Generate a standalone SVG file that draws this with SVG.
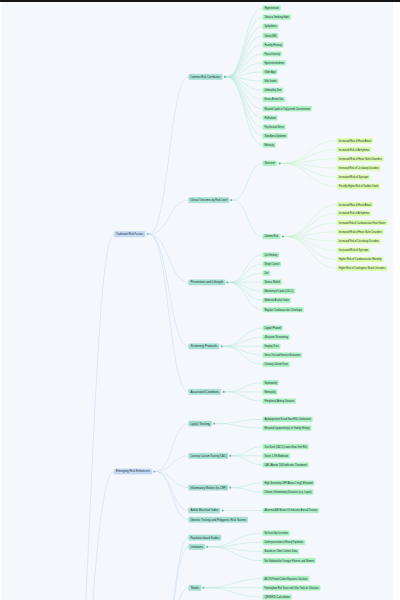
<svg xmlns="http://www.w3.org/2000/svg" width="400" height="600" viewBox="0 0 400 600">
<style>
text{font-family:"Liberation Sans",Arial,sans-serif;font-size:2.6px;fill:#1e293b}
.r{fill:#c5dbf6;stroke:#a9c6ec;stroke-width:.4}
.b{fill:#a9e3d3;stroke:#90d5c1;stroke-width:.4}
.g{fill:#a9efc2;stroke:#cdf6da;stroke-width:.4}
.l{fill:#d7fba6;stroke:#e8fcca;stroke-width:.4}
.tr{fill:#8fb0dc}.tb{fill:#67bea1}.tg{fill:#5ccd89}
#links path{fill:none;stroke-width:.5}
.k0{stroke:#c9d4ef}.k1{stroke:#c7d9ee}.k2{stroke:#b6e7d6}.k3{stroke:#c6f1cb}
</style>
<rect width="400" height="600" fill="#ffffff"/>
<rect x="2" y="2" width="391" height="598" fill="#f4f8fc"/>
<rect width="400" height="2" fill="#151515"/>
<g id="links">
<path class="k0" d="M60,820 C90,820 90,234.2 114.3,234.2"/>
<path class="k0" d="M60,820 C90,820 90,471.5 114.3,471.5"/>
<path class="k1" d="M149,234.2 C169,234.2 169,76.9 188.7,76.9"/>
<path class="k1" d="M149,234.2 C169,234.2 169,200.2 188.7,200.2"/>
<path class="k1" d="M149,234.2 C169,234.2 169,282.4 188.7,282.4"/>
<path class="k1" d="M149,234.2 C169,234.2 169,346.3 188.7,346.3"/>
<path class="k1" d="M149,234.2 C169,234.2 169,391.9 188.7,391.9"/>
<path class="k1" d="M155.8,471.5 C172.2,471.5 172.2,423.6 188.7,423.6"/>
<path class="k1" d="M155.8,471.5 C172.2,471.5 172.2,455.8 188.7,455.8"/>
<path class="k1" d="M155.8,471.5 C172.2,471.5 172.2,487.6 188.7,487.6"/>
<path class="k1" d="M155.8,471.5 C172.2,471.5 172.2,510.5 188.7,510.5"/>
<path class="k1" d="M155.8,471.5 C172.2,471.5 172.2,519.7 188.7,519.7"/>
<path class="k1" d="M161.5,640 C175,640 175,537.7 188.7,537.7"/>
<path class="k1" d="M161.5,640 C175,640 175,546.9 188.7,546.9"/>
<path class="k1" d="M161.5,640 C175,640 175,587.8 188.7,587.8"/>
<path class="k2" d="M226.5,76.9 C244.6,76.9 244.6,8 262.7,8"/>
<path class="k2" d="M226.5,76.9 C244.6,76.9 244.6,17.2 262.7,17.2"/>
<path class="k2" d="M226.5,76.9 C244.6,76.9 244.6,26.4 262.7,26.4"/>
<path class="k2" d="M226.5,76.9 C244.6,76.9 244.6,35.6 262.7,35.6"/>
<path class="k2" d="M226.5,76.9 C244.6,76.9 244.6,44.8 262.7,44.8"/>
<path class="k2" d="M226.5,76.9 C244.6,76.9 244.6,54 262.7,54"/>
<path class="k2" d="M226.5,76.9 C244.6,76.9 244.6,62.8 262.7,62.8"/>
<path class="k2" d="M226.5,76.9 C244.6,76.9 244.6,72 262.7,72"/>
<path class="k2" d="M226.5,76.9 C244.6,76.9 244.6,81.1 262.7,81.1"/>
<path class="k2" d="M226.5,76.9 C244.6,76.9 244.6,90.3 262.7,90.3"/>
<path class="k2" d="M226.5,76.9 C244.6,76.9 244.6,99.5 262.7,99.5"/>
<path class="k2" d="M226.5,76.9 C244.6,76.9 244.6,108.7 262.7,108.7"/>
<path class="k2" d="M226.5,76.9 C244.6,76.9 244.6,117.9 262.7,117.9"/>
<path class="k2" d="M226.5,76.9 C244.6,76.9 244.6,127.1 262.7,127.1"/>
<path class="k2" d="M226.5,76.9 C244.6,76.9 244.6,135.9 262.7,135.9"/>
<path class="k2" d="M226.5,76.9 C244.6,76.9 244.6,145 262.7,145"/>
<path class="k2" d="M232.8,200.2 C247.7,200.2 247.7,163.4 262.7,163.4"/>
<path class="k2" d="M232.8,200.2 C247.7,200.2 247.7,236.5 262.7,236.5"/>
<path class="k3" d="M281.2,163.4 C309,163.4 309,140.8 337,140.8"/>
<path class="k3" d="M281.2,163.4 C309,163.4 309,149.6 337,149.6"/>
<path class="k3" d="M281.2,163.4 C309,163.4 309,158.8 337,158.8"/>
<path class="k3" d="M281.2,163.4 C309,163.4 309,168 337,168"/>
<path class="k3" d="M281.2,163.4 C309,163.4 309,177.2 337,177.2"/>
<path class="k3" d="M281.2,163.4 C309,163.4 309,186.4 337,186.4"/>
<path class="k3" d="M284.5,236.5 C310.7,236.5 310.7,204.7 337,204.7"/>
<path class="k3" d="M284.5,236.5 C310.7,236.5 310.7,213.5 337,213.5"/>
<path class="k3" d="M284.5,236.5 C310.7,236.5 310.7,222.7 337,222.7"/>
<path class="k3" d="M284.5,236.5 C310.7,236.5 310.7,231.9 337,231.9"/>
<path class="k3" d="M284.5,236.5 C310.7,236.5 310.7,241.1 337,241.1"/>
<path class="k3" d="M284.5,236.5 C310.7,236.5 310.7,250.3 337,250.3"/>
<path class="k3" d="M284.5,236.5 C310.7,236.5 310.7,259.5 337,259.5"/>
<path class="k3" d="M284.5,236.5 C310.7,236.5 310.7,268.3 337,268.3"/>
<path class="k2" d="M228.8,282.4 C245.7,282.4 245.7,254.9 262.7,254.9"/>
<path class="k2" d="M228.8,282.4 C245.7,282.4 245.7,264.1 262.7,264.1"/>
<path class="k2" d="M228.8,282.4 C245.7,282.4 245.7,273.2 262.7,273.2"/>
<path class="k2" d="M228.8,282.4 C245.7,282.4 245.7,282.1 262.7,282.1"/>
<path class="k2" d="M228.8,282.4 C245.7,282.4 245.7,291.2 262.7,291.2"/>
<path class="k2" d="M228.8,282.4 C245.7,282.4 245.7,300.4 262.7,300.4"/>
<path class="k2" d="M228.8,282.4 C245.7,282.4 245.7,309.6 262.7,309.6"/>
<path class="k2" d="M223.2,346.3 C243,346.3 243,328 262.7,328"/>
<path class="k2" d="M223.2,346.3 C243,346.3 243,337.2 262.7,337.2"/>
<path class="k2" d="M223.2,346.3 C243,346.3 243,346.3 262.7,346.3"/>
<path class="k2" d="M223.2,346.3 C243,346.3 243,355.1 262.7,355.1"/>
<path class="k2" d="M223.2,346.3 C243,346.3 243,364.3 262.7,364.3"/>
<path class="k2" d="M225.2,391.9 C244,391.9 244,382.7 262.7,382.7"/>
<path class="k2" d="M225.2,391.9 C244,391.9 244,391.9 262.7,391.9"/>
<path class="k2" d="M225.2,391.9 C244,391.9 244,401.1 262.7,401.1"/>
<path class="k2" d="M215.8,423.6 C239.2,423.6 239.2,419.4 262.7,419.4"/>
<path class="k2" d="M215.8,423.6 C239.2,423.6 239.2,428.2 262.7,428.2"/>
<path class="k2" d="M231.8,455.8 C247.2,455.8 247.2,446.6 262.7,446.6"/>
<path class="k2" d="M231.8,455.8 C247.2,455.8 247.2,455.8 262.7,455.8"/>
<path class="k2" d="M231.8,455.8 C247.2,455.8 247.2,465 262.7,465"/>
<path class="k2" d="M231.8,487.6 C247.2,487.6 247.2,483 262.7,483"/>
<path class="k2" d="M231.8,487.6 C247.2,487.6 247.2,492.2 262.7,492.2"/>
<path class="k2" d="M224.2,510.5 L262.7,510.5"/>
<path class="k2" d="M208.8,546.9 C235.7,546.9 235.7,533.1 262.7,533.1"/>
<path class="k2" d="M208.8,546.9 C235.7,546.9 235.7,542.3 262.7,542.3"/>
<path class="k2" d="M208.8,546.9 C235.7,546.9 235.7,551.5 262.7,551.5"/>
<path class="k2" d="M208.8,546.9 C235.7,546.9 235.7,560.7 262.7,560.7"/>
<path class="k2" d="M204.8,587.8 C233.7,587.8 233.7,578.6 262.7,578.6"/>
<path class="k2" d="M204.8,587.8 C233.7,587.8 233.7,587.8 262.7,587.8"/>
<path class="k2" d="M204.8,587.8 C233.7,587.8 233.7,597 262.7,597"/>
</g>
<g id="root1"><rect class="r" x="114.3" y="231.6" width="30.7" height="5.2" rx=".8"/><text x="116" y="235.15" textLength="27.3" lengthAdjust="spacingAndGlyphs">Traditional Risk Factors</text><circle class="tr" cx="147.7" cy="234.2" r="1.1"/></g>
<g id="root2"><rect class="r" x="114.3" y="468.9" width="37.4" height="5.2" rx=".8"/><text x="116" y="472.45" textLength="34" lengthAdjust="spacingAndGlyphs">Emerging Risk Enhancers</text><circle class="tr" cx="154.3" cy="471.5" r="1.1"/></g>
<g id="n1"><rect class="b" x="188.7" y="74.3" width="33.6" height="5.2" rx=".8"/><text x="190.4" y="77.85" textLength="30.2" lengthAdjust="spacingAndGlyphs">Common Risk Contributors</text><circle class="tb" cx="225" cy="76.9" r="1.1"/></g>
<g id="n2"><rect class="b" x="188.7" y="197.6" width="40.3" height="5.2" rx=".8"/><text x="190.4" y="201.15" textLength="36.9" lengthAdjust="spacingAndGlyphs">Clinical Outcomes by Risk Level</text><circle class="tb" cx="231.3" cy="200.2" r="1.1"/></g>
<g id="n3"><rect class="b" x="188.7" y="279.8" width="36.3" height="5.2" rx=".8"/><text x="190.4" y="283.35" textLength="32.9" lengthAdjust="spacingAndGlyphs">Prevention and Lifestyle</text><circle class="tb" cx="227.3" cy="282.4" r="1.1"/></g>
<g id="n4"><rect class="b" x="188.7" y="343.7" width="30.3" height="5.2" rx=".8"/><text x="190.4" y="347.25" textLength="26.9" lengthAdjust="spacingAndGlyphs">Screening Protocols</text><circle class="tb" cx="221.7" cy="346.3" r="1.1"/></g>
<g id="n5"><rect class="b" x="188.7" y="389.3" width="32" height="5.2" rx=".8"/><text x="190.4" y="392.85" textLength="28.6" lengthAdjust="spacingAndGlyphs">Associated Conditions</text><circle class="tb" cx="223.7" cy="391.9" r="1.1"/></g>
<g id="n6"><rect class="b" x="188.7" y="421" width="23" height="5.2" rx=".8"/><text x="190.4" y="424.55" textLength="19.6" lengthAdjust="spacingAndGlyphs">Lp(a) Testing</text><circle class="tb" cx="214.3" cy="423.6" r="1.1"/></g>
<g id="n7"><rect class="b" x="188.7" y="453.2" width="39.3" height="5.2" rx=".8"/><text x="190.4" y="456.75" textLength="35.9" lengthAdjust="spacingAndGlyphs">Coronary Calcium Scoring (CAC)</text><circle class="tb" cx="230.3" cy="455.8" r="1.1"/></g>
<g id="n8"><rect class="b" x="188.7" y="485" width="39.3" height="5.2" rx=".8"/><text x="190.4" y="488.55" textLength="35.9" lengthAdjust="spacingAndGlyphs">Inflammatory Markers (hs-CRP)</text><circle class="tb" cx="230.3" cy="487.6" r="1.1"/></g>
<g id="n9"><rect class="b" x="188.7" y="507.9" width="31.3" height="5.2" rx=".8"/><text x="190.4" y="511.45" textLength="27.9" lengthAdjust="spacingAndGlyphs">Ankle-Brachial Index</text><circle class="tb" cx="222.7" cy="510.5" r="1.1"/></g>
<g id="n10"><rect class="b" x="188.7" y="517.1" width="59" height="5.2" rx=".8"/><text x="190.4" y="520.65" textLength="55.6" lengthAdjust="spacingAndGlyphs">Genetic Testing and Polygenic Risk Scores</text></g>
<g id="n11"><rect class="b" x="188.7" y="535.1" width="32.3" height="5.2" rx=".8"/><text x="190.4" y="538.65" textLength="28.9" lengthAdjust="spacingAndGlyphs">Population-based Studies</text></g>
<g id="n12"><rect class="b" x="188.7" y="544.3" width="16" height="5.2" rx=".8"/><text x="190.4" y="547.85" textLength="12.6" lengthAdjust="spacingAndGlyphs">Limitations</text><circle class="tb" cx="207.3" cy="546.9" r="1.1"/></g>
<g id="n13"><rect class="b" x="188.7" y="585.2" width="12.3" height="5.2" rx=".8"/><text x="190.4" y="588.75" textLength="8.9" lengthAdjust="spacingAndGlyphs">Tools</text><circle class="tb" cx="203.3" cy="587.8" r="1.1"/></g>
<g id="c1"><rect class="g" x="262.7" y="5.4" width="18" height="5.2" rx=".8"/><text x="264.4" y="8.95" textLength="14.6" lengthAdjust="spacingAndGlyphs">Hypertension</text></g>
<g id="c2"><rect class="g" x="262.7" y="14.6" width="28" height="5.2" rx=".8"/><text x="264.4" y="18.15" textLength="24.6" lengthAdjust="spacingAndGlyphs">Tobacco Smoking Habit</text></g>
<g id="c3"><rect class="g" x="262.7" y="23.8" width="15.6" height="5.2" rx=".8"/><text x="264.4" y="27.35" textLength="12.2" lengthAdjust="spacingAndGlyphs">Dyslipidemia</text></g>
<g id="c4"><rect class="g" x="262.7" y="33" width="15.6" height="5.2" rx=".8"/><text x="264.4" y="36.55" textLength="12.2" lengthAdjust="spacingAndGlyphs">Obesity (BMI)</text></g>
<g id="c5"><rect class="g" x="262.7" y="42.2" width="21" height="5.2" rx=".8"/><text x="264.4" y="45.75" textLength="17.6" lengthAdjust="spacingAndGlyphs">Family History</text></g>
<g id="c6"><rect class="g" x="262.7" y="51.4" width="19" height="5.2" rx=".8"/><text x="264.4" y="54.95" textLength="15.6" lengthAdjust="spacingAndGlyphs">Physical Inactivity</text></g>
<g id="c7"><rect class="g" x="262.7" y="60.2" width="23" height="5.2" rx=".8"/><text x="264.4" y="63.75" textLength="19.6" lengthAdjust="spacingAndGlyphs">Hypercholesterolemia</text></g>
<g id="c8"><rect class="g" x="262.7" y="69.4" width="14.6" height="5.2" rx=".8"/><text x="264.4" y="72.95" textLength="11.2" lengthAdjust="spacingAndGlyphs">Older Age</text></g>
<g id="c9"><rect class="g" x="262.7" y="78.5" width="15.6" height="5.2" rx=".8"/><text x="264.4" y="82.05" textLength="12.2" lengthAdjust="spacingAndGlyphs">Male Gender</text></g>
<g id="c10"><rect class="g" x="262.7" y="87.7" width="20.3" height="5.2" rx=".8"/><text x="264.4" y="91.25" textLength="16.9" lengthAdjust="spacingAndGlyphs">Unhealthy Diet</text></g>
<g id="c11"><rect class="g" x="262.7" y="96.9" width="22.3" height="5.2" rx=".8"/><text x="264.4" y="100.45" textLength="18.9" lengthAdjust="spacingAndGlyphs">Excess Alcohol Use</text></g>
<g id="c12"><rect class="g" x="262.7" y="106.1" width="49" height="5.2" rx=".8"/><text x="264.4" y="109.65" textLength="45.6" lengthAdjust="spacingAndGlyphs">Elevated Lipids or Triglyceride Concentration</text></g>
<g id="c13"><rect class="g" x="262.7" y="115.3" width="15" height="5.2" rx=".8"/><text x="264.4" y="118.85" textLength="11.6" lengthAdjust="spacingAndGlyphs">Pollution</text></g>
<g id="c14"><rect class="g" x="262.7" y="124.5" width="23" height="5.2" rx=".8"/><text x="264.4" y="128.05" textLength="19.6" lengthAdjust="spacingAndGlyphs">Psychosocial Stress</text></g>
<g id="c15"><rect class="g" x="262.7" y="133.3" width="25" height="5.2" rx=".8"/><text x="264.4" y="136.85" textLength="21.6" lengthAdjust="spacingAndGlyphs">Sleep Apnea Syndrome</text></g>
<g id="c16"><rect class="g" x="262.7" y="142.4" width="13" height="5.2" rx=".8"/><text x="264.4" y="145.95" textLength="9.6" lengthAdjust="spacingAndGlyphs">Ethnicity</text></g>
<g id="ca"><rect class="g" x="262.7" y="160.8" width="14" height="5.2" rx=".8"/><text x="264.4" y="164.35" textLength="10.6" lengthAdjust="spacingAndGlyphs">Short-term</text><circle class="tg" cx="279.7" cy="163.4" r="1.1"/></g>
<g id="cb"><rect class="g" x="262.7" y="233.9" width="17.3" height="5.2" rx=".8"/><text x="264.4" y="237.45" textLength="13.9" lengthAdjust="spacingAndGlyphs">Lifetime Risk</text><circle class="tg" cx="283" cy="236.5" r="1.1"/></g>
<g id="a1"><rect class="l" x="337" y="138.2" width="36" height="5.2" rx=".8"/><text x="338.7" y="141.75" textLength="32.6" lengthAdjust="spacingAndGlyphs">Increased Risk of Heart Attack</text></g>
<g id="a2"><rect class="l" x="337" y="147" width="34" height="5.2" rx=".8"/><text x="338.7" y="150.55" textLength="30.6" lengthAdjust="spacingAndGlyphs">Increased Risk of Arrhythmia</text></g>
<g id="a3"><rect class="l" x="337" y="156.2" width="46.7" height="5.2" rx=".8"/><text x="338.7" y="159.75" textLength="43.3" lengthAdjust="spacingAndGlyphs">Increased Risk of Heart Valve Disorders</text></g>
<g id="a4"><rect class="l" x="337" y="165.4" width="43.7" height="5.2" rx=".8"/><text x="338.7" y="168.95" textLength="40.3" lengthAdjust="spacingAndGlyphs">Increased Risk of Circulatory Disorders</text></g>
<g id="a5"><rect class="l" x="337" y="174.6" width="33" height="5.2" rx=".8"/><text x="338.7" y="178.15" textLength="29.6" lengthAdjust="spacingAndGlyphs">Increased Risk of Syncope</text></g>
<g id="a6"><rect class="l" x="337" y="183.8" width="43" height="5.2" rx=".8"/><text x="338.7" y="187.35" textLength="39.6" lengthAdjust="spacingAndGlyphs">Possibly Higher Risk of Sudden Death</text></g>
<g id="b1"><rect class="l" x="337" y="202.1" width="36" height="5.2" rx=".8"/><text x="338.7" y="205.65" textLength="32.6" lengthAdjust="spacingAndGlyphs">Increased Risk of Heart Attack</text></g>
<g id="b2"><rect class="l" x="337" y="210.9" width="34" height="5.2" rx=".8"/><text x="338.7" y="214.45" textLength="30.6" lengthAdjust="spacingAndGlyphs">Increased Risk of Arrhythmia</text></g>
<g id="b3"><rect class="l" x="337" y="220.1" width="50.3" height="5.2" rx=".8"/><text x="338.7" y="223.65" textLength="46.9" lengthAdjust="spacingAndGlyphs">Increased Risk of Cardiovascular Heart Failure</text></g>
<g id="b4"><rect class="l" x="337" y="229.3" width="46.7" height="5.2" rx=".8"/><text x="338.7" y="232.85" textLength="43.3" lengthAdjust="spacingAndGlyphs">Increased Risk of Heart Valve Disorders</text></g>
<g id="b5"><rect class="l" x="337" y="238.5" width="43.7" height="5.2" rx=".8"/><text x="338.7" y="242.05" textLength="40.3" lengthAdjust="spacingAndGlyphs">Increased Risk of Circulatory Disorders</text></g>
<g id="b6"><rect class="l" x="337" y="247.7" width="33" height="5.2" rx=".8"/><text x="338.7" y="251.25" textLength="29.6" lengthAdjust="spacingAndGlyphs">Increased Risk of Syncope</text></g>
<g id="b7"><rect class="l" x="337" y="256.9" width="46.3" height="5.2" rx=".8"/><text x="338.7" y="260.45" textLength="42.9" lengthAdjust="spacingAndGlyphs">Higher Risk of Cardiovascular Mortality</text></g>
<g id="b8"><rect class="l" x="337" y="265.7" width="50.3" height="5.2" rx=".8"/><text x="338.7" y="269.25" textLength="46.9" lengthAdjust="spacingAndGlyphs">Higher Risk of Cardiogenic Shock Outcomes</text></g>
<g id="p1"><rect class="g" x="262.7" y="252.3" width="16.3" height="5.2" rx=".8"/><text x="264.4" y="255.85" textLength="12.9" lengthAdjust="spacingAndGlyphs">Quit Smoking</text></g>
<g id="p2"><rect class="g" x="262.7" y="261.5" width="18.3" height="5.2" rx=".8"/><text x="264.4" y="265.05" textLength="14.9" lengthAdjust="spacingAndGlyphs">Weight Control</text></g>
<g id="p3"><rect class="g" x="262.7" y="270.6" width="7.3" height="5.2" rx=".8"/><text x="264.4" y="274.15" textLength="3.9" lengthAdjust="spacingAndGlyphs">Diet</text></g>
<g id="p4"><rect class="g" x="262.7" y="279.5" width="19" height="5.2" rx=".8"/><text x="264.4" y="283.05" textLength="15.6" lengthAdjust="spacingAndGlyphs">Stress Relief</text></g>
<g id="p5"><rect class="g" x="262.7" y="288.6" width="32.3" height="5.2" rx=".8"/><text x="264.4" y="292.15" textLength="28.9" lengthAdjust="spacingAndGlyphs">Monitoring of Lipids (LDL-C)</text></g>
<g id="p6"><rect class="g" x="262.7" y="297.8" width="28" height="5.2" rx=".8"/><text x="264.4" y="301.35" textLength="24.6" lengthAdjust="spacingAndGlyphs">Moderate Alcohol Intake</text></g>
<g id="p7"><rect class="g" x="262.7" y="307" width="41" height="5.2" rx=".8"/><text x="264.4" y="310.55" textLength="37.6" lengthAdjust="spacingAndGlyphs">Regular Cardiovascular Checkups</text></g>
<g id="s1"><rect class="g" x="262.7" y="325.4" width="20" height="5.2" rx=".8"/><text x="264.4" y="328.95" textLength="16.6" lengthAdjust="spacingAndGlyphs">Lipid Panel</text></g>
<g id="s2"><rect class="g" x="262.7" y="334.6" width="27" height="5.2" rx=".8"/><text x="264.4" y="338.15" textLength="23.6" lengthAdjust="spacingAndGlyphs">Glucose Screening</text></g>
<g id="s3"><rect class="g" x="262.7" y="343.7" width="17.6" height="5.2" rx=".8"/><text x="264.4" y="347.25" textLength="14.2" lengthAdjust="spacingAndGlyphs">Imaging Tests</text></g>
<g id="s4"><rect class="g" x="262.7" y="352.5" width="39.3" height="5.2" rx=".8"/><text x="264.4" y="356.05" textLength="35.9" lengthAdjust="spacingAndGlyphs">Stress Test and Exercise Evaluation</text></g>
<g id="s5"><rect class="g" x="262.7" y="361.7" width="27" height="5.2" rx=".8"/><text x="264.4" y="365.25" textLength="23.6" lengthAdjust="spacingAndGlyphs">Coronary Calcium Score</text></g>
<g id="d1"><rect class="g" x="262.7" y="380.1" width="16" height="5.2" rx=".8"/><text x="264.4" y="383.65" textLength="12.6" lengthAdjust="spacingAndGlyphs">Nephropathy</text></g>
<g id="d2"><rect class="g" x="262.7" y="389.3" width="14.6" height="5.2" rx=".8"/><text x="264.4" y="392.85" textLength="11.2" lengthAdjust="spacingAndGlyphs">Retinopathy</text></g>
<g id="d3"><rect class="g" x="262.7" y="398.5" width="33.3" height="5.2" rx=".8"/><text x="264.4" y="402.05" textLength="29.9" lengthAdjust="spacingAndGlyphs">Peripheral Artery Disease</text></g>
<g id="e1"><rect class="g" x="262.7" y="416.8" width="50" height="5.2" rx=".8"/><text x="264.4" y="420.35" textLength="46.6" lengthAdjust="spacingAndGlyphs">Apolipoprotein B and Non-HDL Cholesterol</text></g>
<g id="e2"><rect class="g" x="262.7" y="425.6" width="48.6" height="5.2" rx=".8"/><text x="264.4" y="429.15" textLength="45.2" lengthAdjust="spacingAndGlyphs">Elevated Lipoprotein(a) in Family History</text></g>
<g id="f1"><rect class="g" x="262.7" y="444" width="46" height="5.2" rx=".8"/><text x="264.4" y="447.55" textLength="42.6" lengthAdjust="spacingAndGlyphs">Zero Score (CAC 0) Lowers Near-Term Risk</text></g>
<g id="f2"><rect class="g" x="262.7" y="453.2" width="27.3" height="5.2" rx=".8"/><text x="264.4" y="456.75" textLength="23.9" lengthAdjust="spacingAndGlyphs">Score 1-99 Moderate</text></g>
<g id="f3"><rect class="g" x="262.7" y="462.4" width="46" height="5.2" rx=".8"/><text x="264.4" y="465.95" textLength="42.6" lengthAdjust="spacingAndGlyphs">CAC Above 100 Indicates Treatment</text></g>
<g id="h1"><rect class="g" x="262.7" y="480.4" width="51.6" height="5.2" rx=".8"/><text x="264.4" y="483.95" textLength="48.2" lengthAdjust="spacingAndGlyphs">High-Sensitivity CRP Above 2 mg/L Elevated</text></g>
<g id="h2"><rect class="g" x="262.7" y="489.6" width="50.6" height="5.2" rx=".8"/><text x="264.4" y="493.15" textLength="47.2" lengthAdjust="spacingAndGlyphs">Chronic Inflammatory Diseases (e.g. Lupus)</text></g>
<g id="i1"><rect class="g" x="262.7" y="507.9" width="56.3" height="5.2" rx=".8"/><text x="264.4" y="511.45" textLength="52.9" lengthAdjust="spacingAndGlyphs">Abnormal ABI Below 0.9 Indicates Arterial Disease</text></g>
<g id="m1"><rect class="g" x="262.7" y="530.5" width="27" height="5.2" rx=".8"/><text x="264.4" y="534.05" textLength="23.6" lengthAdjust="spacingAndGlyphs">Risk Scores May Overestimate</text></g>
<g id="m2"><rect class="g" x="262.7" y="539.7" width="42.3" height="5.2" rx=".8"/><text x="264.4" y="543.25" textLength="38.9" lengthAdjust="spacingAndGlyphs">Underrepresentation of Minority Populations</text></g>
<g id="m3"><rect class="g" x="262.7" y="548.9" width="36.3" height="5.2" rx=".8"/><text x="264.4" y="552.45" textLength="32.9" lengthAdjust="spacingAndGlyphs">Based on Older Cohort Data</text></g>
<g id="m4"><rect class="g" x="262.7" y="558.1" width="53" height="5.2" rx=".8"/><text x="264.4" y="561.65" textLength="49.6" lengthAdjust="spacingAndGlyphs">Not Validated for Younger Patients and Women</text></g>
<g id="t1"><rect class="g" x="262.7" y="576" width="46.6" height="5.2" rx=".8"/><text x="264.4" y="579.55" textLength="43.2" lengthAdjust="spacingAndGlyphs">ASCVD Pooled Cohort Equations Calculator</text></g>
<g id="t2"><rect class="g" x="262.7" y="585.2" width="57.6" height="5.2" rx=".8"/><text x="264.4" y="588.75" textLength="54.2" lengthAdjust="spacingAndGlyphs">Framingham Risk Score and Other Tools for Clinicians</text></g>
<g id="t3"><rect class="g" x="262.7" y="594.4" width="29" height="5.2" rx=".8"/><text x="264.4" y="597.95" textLength="25.6" lengthAdjust="spacingAndGlyphs">QRISK3 Calculator</text></g>
</svg>
